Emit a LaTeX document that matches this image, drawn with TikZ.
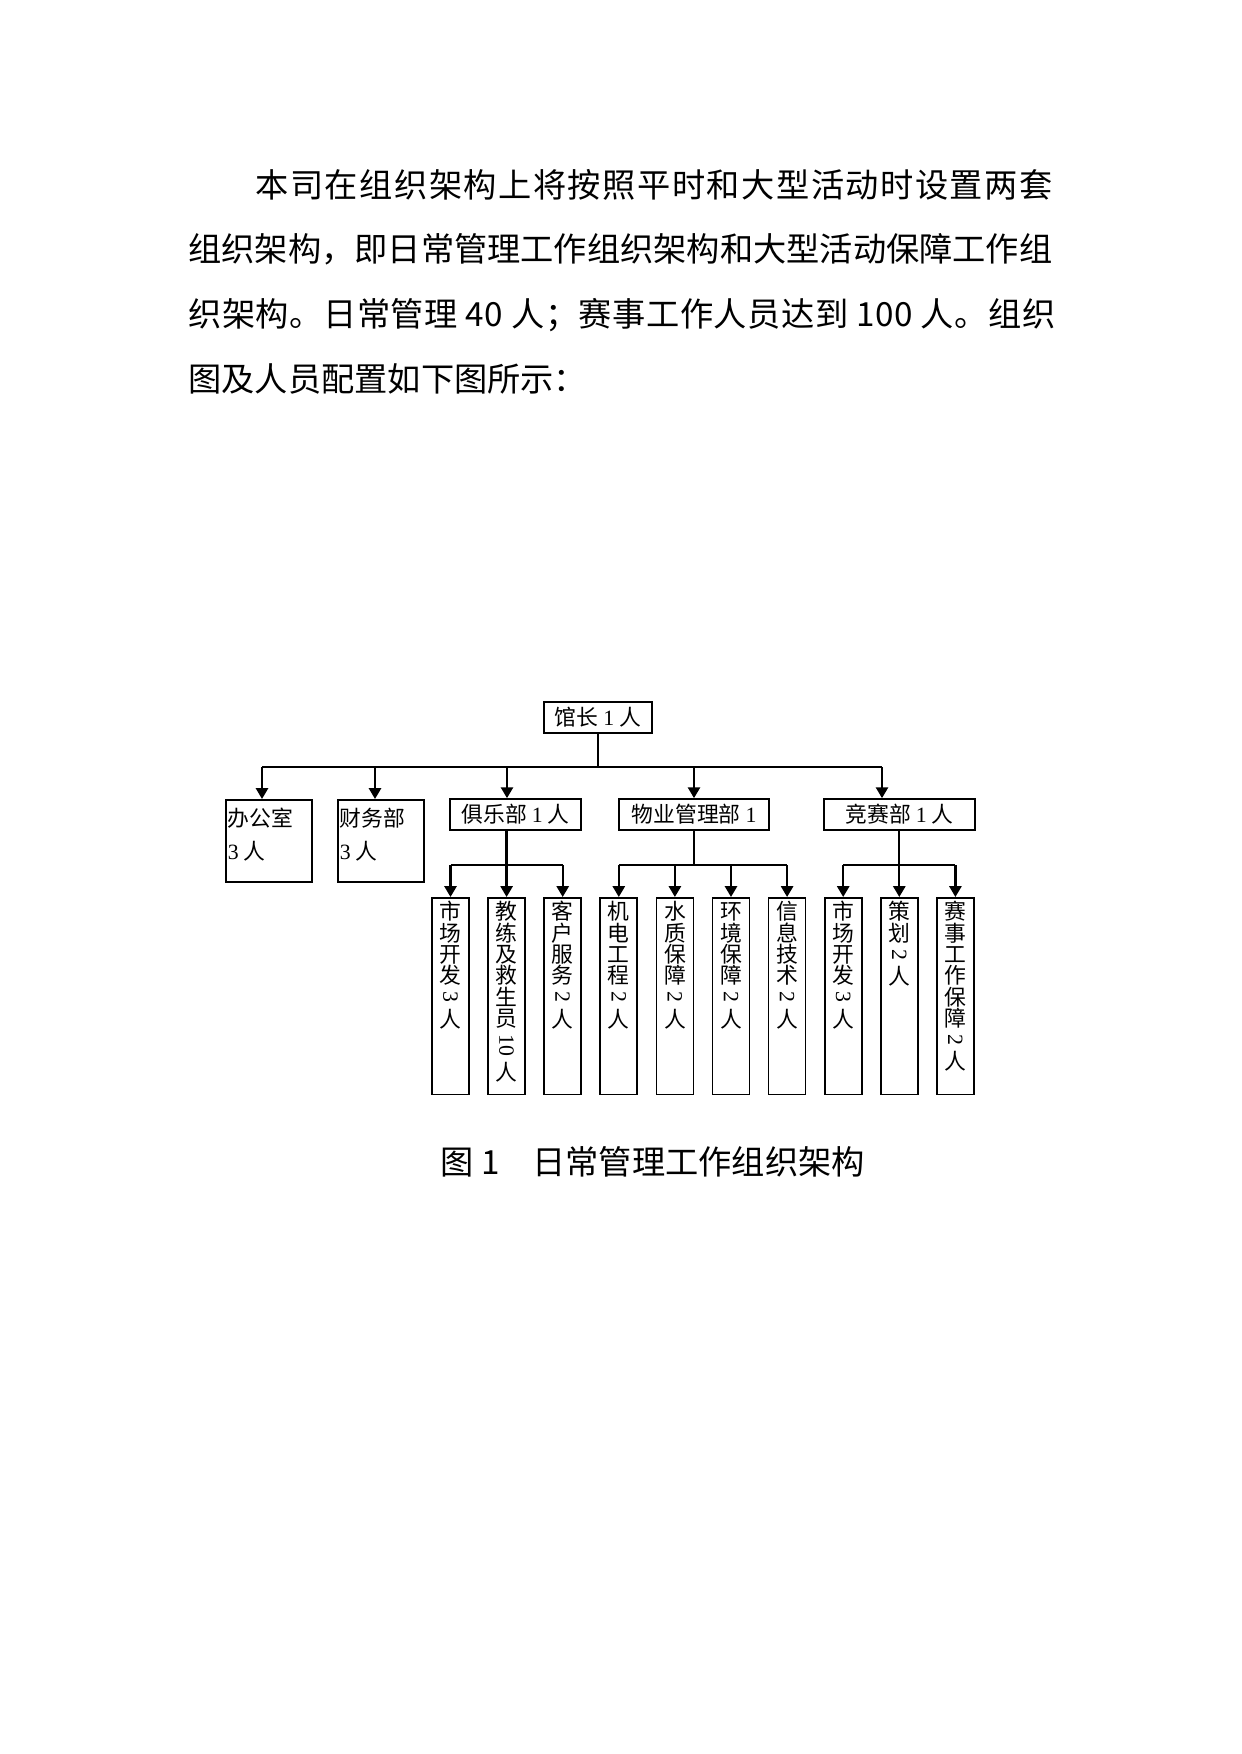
\documentclass[tikz,border=0pt]{standalone}
\usepackage{fontspec}
\setmainfont{Noto Sans CJK SC}
\newfontfamily\tnr{Liberation Serif}
\usepackage{graphicx}
\usetikzlibrary{arrows.meta,calc,positioning}

% senkrechte Beschriftung der unteren Kaesten
\newcommand\zeichen[1]{\hbox to 10.5pt{\hss\vrule height 9.1pt depth 1.2pt width 0pt #1\hss}}
\def\senkrecht#1{\senkrechtaux#1\relax}
\def\senkrechtaux#1{\ifx\relax#1\else\zeichen{#1}\expandafter\senkrechtaux\fi}
\newcommand\spalte[2]{\vbox to 32.3mm{\offinterlineskip\senkrecht{#1}\hbox to 10.5pt{\hss\rotatebox{-90}{\tnr\ #2\ }\hss}\zeichen{人}\vfil}}

\begin{document}
\begin{tikzpicture}[x=0.169224mm,y=-0.169224mm,>={Triangle[width=5.8pt,length=5.2pt]},
    linie/.style={line width=1.1pt},
    kasten/.style={draw, line width=0.8pt, inner sep=0pt, font=\fontsize{10.5}{10.5}\selectfont},
    abteilung/.style={kasten, minimum height=5.25mm},
    spaltenkasten/.style={kasten, anchor=north, minimum width=6.26mm, inner ysep=0.5mm},
    zeile/.style={anchor=base west, inner sep=0pt, font=\fontsize{16}{16}\selectfont}]
    % Seite
    \fill[white] (0,0) rectangle (1241,1754);
    \useasboundingbox (0,0) rectangle (1241,1754);

    % Fliesstext
    \node[zeile] (z1) at (255,198) {\addfontfeature{LetterSpace=4.5}本司在组织架构上将按照平时和大型活动时设置两套};
    \node[zeile] (z2) at (188,262) {组织架构，即日常管理工作组织架构和大型活动保障工作组};
    \node[zeile] (z3) at (188,327) {\addfontfeature{LetterSpace=1.6}织架构。日常管理 40 人；赛事工作人员达到 100 人。组织};
    \node[zeile] (z4) at (188,392) {图及人员配置如下图所示：};

    % Leitung
    \node[kasten, minimum width=18.28mm, minimum height=5.25mm] (leiter) at (598,717.5) {馆长 {\tnr 1} 人};

    % Abteilungen
    \node[kasten, anchor=north west, minimum width=14.55mm, minimum height=13.88mm, inner sep=0.3mm] (buero) at (225,799)
        {\parbox[t][13.2mm][t]{13.9mm}{\fontsize{10.5}{15.9}\selectfont\rule{0pt}{4.2mm}办公室\\{\tnr 3} 人}};
    \node[kasten, anchor=north west, minimum width=14.55mm, minimum height=13.88mm, inner sep=0.3mm] (finanz) at (337,799)
        {\parbox[t][13.2mm][t]{13.9mm}{\fontsize{10.5}{15.9}\selectfont\rule{0pt}{4.2mm}财务部\\{\tnr 3} 人}};
    \node[abteilung, minimum width=22.17mm] (klub) at (515.5,814.5) {俱乐部 {\tnr 1} 人};
    \node[abteilung, minimum width=25.38mm] (objekt) at (694,814.5) {物业管理部 {\tnr 1}};
    \node[abteilung, minimum width=25.55mm] (wettkampf) at (899.5,814.5) {竞赛部 {\tnr 1} 人};

    % Stellen (senkrecht beschriftet)
    \node[spaltenkasten] (s1) at (450.5,897) {\spalte{市场开发}{3}};
    \node[spaltenkasten] (s2) at (506.6,897) {\spalte{教练及救生员}{10}};
    \node[spaltenkasten] (s3) at (562.7,897) {\spalte{客户服务}{2}};
    \node[spaltenkasten] (s4) at (618.8,897) {\spalte{机电工程}{2}};
    \node[spaltenkasten] (s5) at (674.9,897) {\spalte{水质保障}{2}};
    \node[spaltenkasten] (s6) at (731.0,897) {\spalte{环境保障}{2}};
    \node[spaltenkasten] (s7) at (787.1,897) {\spalte{信息技术}{2}};
    \node[spaltenkasten] (s8) at (843.2,897) {\spalte{市场开发}{3}};
    \node[spaltenkasten] (s9) at (899.3,897) {\spalte{策划}{2}};
    \node[spaltenkasten] (s10) at (955.4,897) {\spalte{赛事工作保障}{2}};

    % obere Verteilung
    \coordinate (t1) at (262,767);
    \coordinate (t2) at (375,767);
    \coordinate (t3) at (507,767);
    \coordinate (t4) at (694,767);
    \coordinate (t5) at (882,767);
    \draw[linie] (leiter.south) -- (leiter.south |- t1);
    \draw[linie] (t1) -- (t5);
    \draw[linie,->] (t1) -- (t1 |- buero.north);
    \draw[linie,->] (t2) -- (t2 |- finanz.north);
    \draw[linie,->] (t3) -- (t3 |- klub.north);
    \draw[linie,->] (t4) -- (t4 |- objekt.north);
    \draw[linie,->] (t5) -- (t5 |- wettkampf.north);

    % untere Verteilung
    \coordinate (u) at (0,865);
    \draw[linie] (s2 |- klub.south) -- (s2 |- u);
    \draw[linie] (objekt.south) -- (objekt.south |- u);
    \draw[linie] (s9 |- wettkampf.south) -- (s9 |- u);
    \draw[linie] (s1 |- u) -- (s3 |- u);
    \draw[linie] (s4 |- u) -- (s7 |- u);
    \draw[linie] (s8 |- u) -- (s10 |- u);
    \draw[linie,->] (s1 |- u) -- (s1.north);
    \draw[linie,->] (s2 |- u) -- (s2.north);
    \draw[linie,->] (s3 |- u) -- (s3.north);
    \draw[linie,->] (s4 |- u) -- (s4.north);
    \draw[linie,->] (s5 |- u) -- (s5.north);
    \draw[linie,->] (s6 |- u) -- (s6.north);
    \draw[linie,->] (s7 |- u) -- (s7.north);
    \draw[linie,->] (s8 |- u) -- (s8.north);
    \draw[linie,->] (s9 |- u) -- (s9.north);
    \draw[linie,->] (s10 |- u) -- (s10.north);

    % Bildunterschrift
    \node[zeile] (titel) at (440,1174) {图 1\hspace{0.99em}日常管理工作组织架构};
\end{tikzpicture}
\end{document}
